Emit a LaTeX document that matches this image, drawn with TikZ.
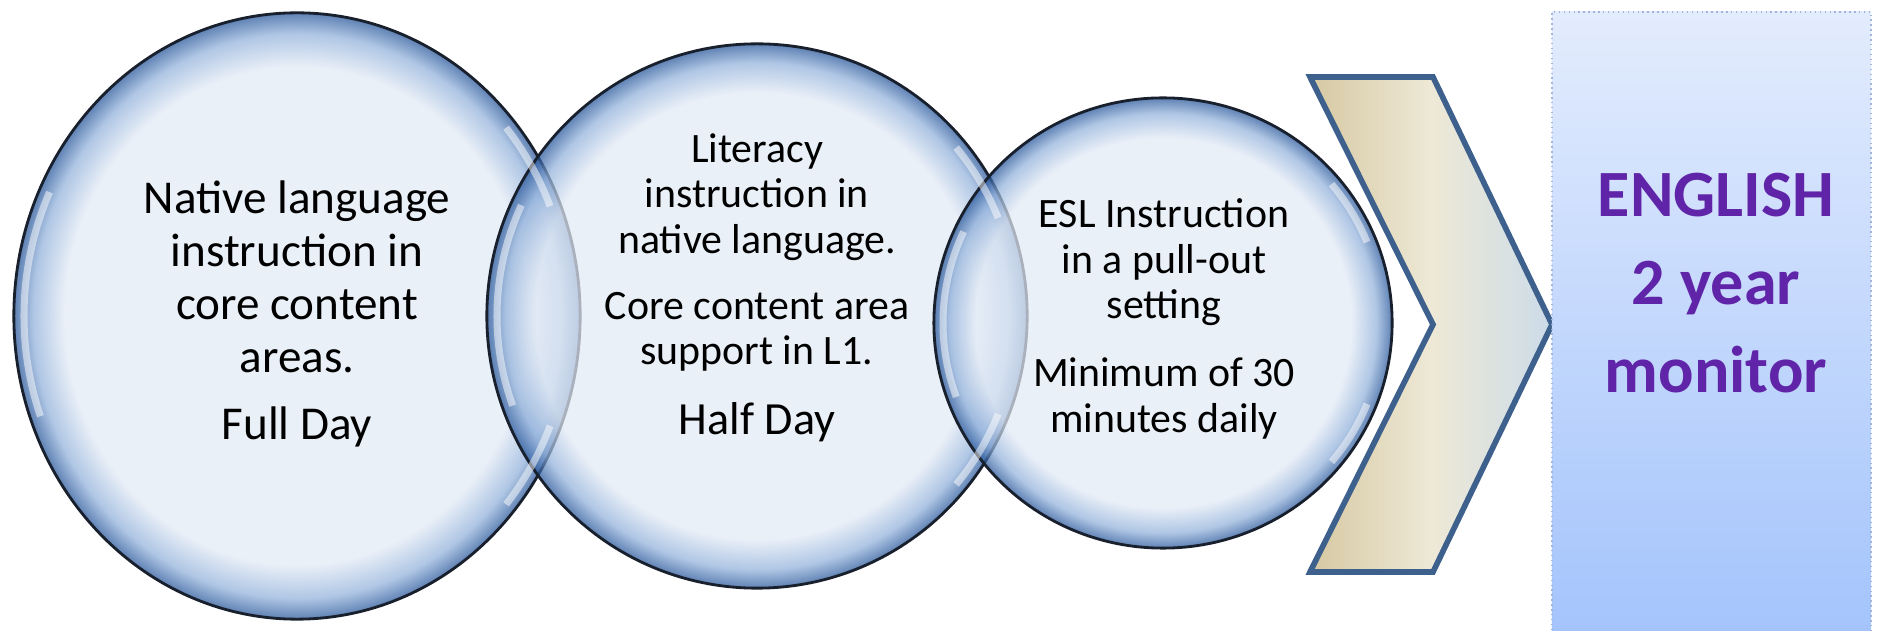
\documentclass[tikz,border=0pt]{standalone}
\usepackage{fontspec}
\setmainfont{Carlito}
\usetikzlibrary{positioning,shapes.geometric}

\definecolor{bubin}{RGB}{226,234,245}
\definecolor{bubmid}{RGB}{144,176,218}
\definecolor{bubedge}{RGB}{33,81,151}
\definecolor{bubline}{RGB}{25,32,45}
\definecolor{chevline}{RGB}{62,96,140}
\definecolor{chevtan}{RGB}{214,200,162}
\definecolor{chevcream}{RGB}{238,233,214}
\definecolor{chevblue}{RGB}{204,219,233}
\definecolor{goaltop}{RGB}{227,236,253}
\definecolor{goalbot}{RGB}{164,196,252}
\definecolor{goalline}{RGB}{160,180,220}
\definecolor{goalpurple}{RGB}{96,36,168}

\pgfdeclareradialshading{bubble}{\pgfpoint{0bp}{0bp}}{%
  color(0bp)=(bubin); color(20.5bp)=(bubin); color(23.3bp)=(bubmid);
  color(25bp)=(bubedge); color(50bp)=(bubedge)}

\begin{document}
\begin{tikzpicture}[x=0.01cm,y=-0.01cm,
	bubble/.style={ellipse,draw=bubline,line width=0.8pt,shading=bubble,
		fill opacity=0.72,draw opacity=1,inner sep=0pt},
	gloss/.style={white,line width=2pt,opacity=0.5},
	txt/.style={align=center,text=black,inner sep=0pt},
	chevron/.style={draw=chevline,line width=1.6pt,line join=miter,
		left color=chevtan,right color=chevblue,middle color=chevcream},
	goalbox/.style={rectangle,draw=goalline,densely dotted,line width=0.4pt,
		top color=goaltop,bottom color=goalbot,inner sep=0pt},
	goaltxt/.style={align=center,text=goalpurple,
		font=\bfseries\fontsize{18.8}{25}\selectfont}]
	\useasboundingbox (0,0) rectangle (1879,631);
	% the three bubbles
	\node[bubble,minimum width=5.66cm,minimum height=6.06cm] (full) at (297,316) {};
	\node[bubble,minimum width=5.4cm,minimum height=5.44cm] (half) at (757,316) {};
	\node[bubble,minimum width=4.58cm,minimum height=4.5cm] (esl) at (1163,323) {};
	% glass highlights
	\draw[gloss] ([shift={(160:273 and 293)}]full.center) arc[start angle=160,end angle=205,x radius=273,y radius=293];
	\draw[gloss] ([shift={(-40:273 and 293)}]full.center) arc[start angle=-40,end angle=-22,x radius=273,y radius=293];
	\draw[gloss] ([shift={(22:273 and 293)}]full.center) arc[start angle=22,end angle=40,x radius=273,y radius=293];
	\draw[gloss] ([shift={(160:260 and 262)}]half.center) arc[start angle=160,end angle=205,x radius=260,y radius=262];
	\draw[gloss] ([shift={(-40:260 and 262)}]half.center) arc[start angle=-40,end angle=-22,x radius=260,y radius=262];
	\draw[gloss] ([shift={(22:260 and 262)}]half.center) arc[start angle=22,end angle=40,x radius=260,y radius=262];
	\draw[gloss] ([shift={(160:220 and 216)}]esl.center) arc[start angle=160,end angle=205,x radius=220,y radius=216];
	\draw[gloss] ([shift={(-40:220 and 216)}]esl.center) arc[start angle=-40,end angle=-22,x radius=220,y radius=216];
	\draw[gloss] ([shift={(22:220 and 216)}]esl.center) arc[start angle=22,end angle=40,x radius=220,y radius=216];
	% texts
	\node[txt,font=\fontsize{13.4}{15.1}\selectfont] (fulltxt) at (297,314)
		{Native language\\instruction in\\core content\\areas.\\[4pt]Full Day};
	\node[txt,font=\fontsize{11.9}{12.9}\selectfont] (halftxt) at (757,288)
		{Literacy\\instruction in\\native language.\\[6pt]Core content area\\support in L1.\\[7pt]{\fontsize{13.1}{14}\selectfont Half Day}};
	\node[txt,font=\fontsize{11.9}{12.9}\selectfont] (esltxt) at (1164,319)
		{ESL Instruction\\in a pull-out\\setting\\[6.5pt]Minimum of 30\\minutes daily};
	% chevron
	\draw[chevron] (1310,77) -- (1433,77) -- (1552,324.5) -- (1433,572) -- (1310,572) -- (1433,324.5) -- cycle;
	% goal
	\node[goalbox,minimum width=3.19cm,minimum height=6.2cm] (goal) at (1711.5,322) {};
	\node[goaltxt] (eng) at (1716,283) {ENGLISH\\2 year\\monitor};
\end{tikzpicture}
\end{document}
